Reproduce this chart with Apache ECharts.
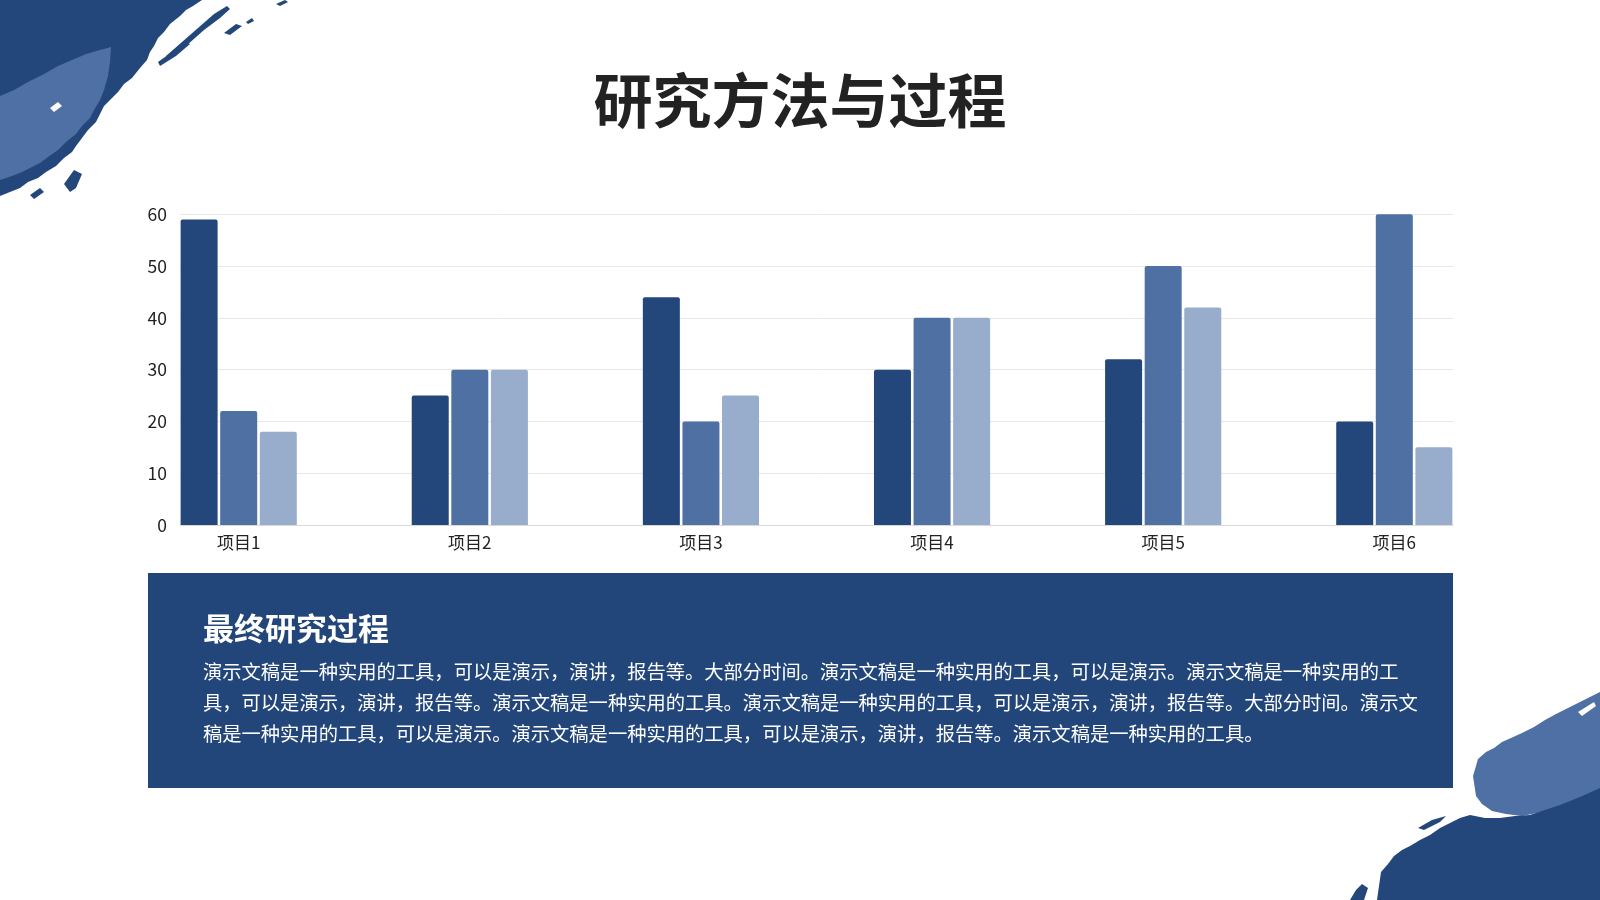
<!DOCTYPE html>
<html>
<head>
<meta charset="utf-8">
<script src="https://cdn.jsdelivr.net/npm/echarts@6/dist/echarts.min.js"></script>
<style>
html,body{margin:0;padding:0;background:#fff;}
#c{width:1600px;height:900px;}
</style>
</head>
<body>
<div id="c"></div>
<script>
var categories = ['项目1', '项目2', '项目3', '项目4', '项目5', '项目6'];
var series1 = [59, 25, 44, 30, 32, 20];
var series2 = [22, 30, 20, 40, 50, 60];
var series3 = [18, 30, 25, 40, 42, 15];
var yMin = 0, yMax = 60, yStep = 10;
var titleText = '研究方法与过程';
var boxTitle = '最终研究过程';
var boxLines = [
  '演示文稿是一种实用的工具，可以是演示，演讲，报告等。大部分时间。演示文稿是一种实用的工具，可以是演示。演示文稿是一种实用的工',
  '具，可以是演示，演讲，报告等。演示文稿是一种实用的工具。演示文稿是一种实用的工具，可以是演示，演讲，报告等。大部分时间。演示文',
  '稿是一种实用的工具，可以是演示。演示文稿是一种实用的工具，可以是演示，演讲，报告等。演示文稿是一种实用的工具。'
];

var DARK = '#23477B', MID = '#4F70A3', LIGHT = '#98ADCB', BRUSH = '#4E70A4';
var FONT = '"Noto Sans CJK SC", "Noto Sans", sans-serif';

var chart = echarts.init(document.getElementById('c'), null, {renderer: 'canvas', width: 1600, height: 900});

function barSeries(name, data, color) {
  return {
    type: 'bar', name: name, data: data, xAxisIndex: 0, yAxisIndex: 0,
    barWidth: 37, barGap: '7%', clip: false, z: 3,
    itemStyle: {color: color, borderRadius: [2, 2, 0, 0]},
    emphasis: {disabled: true}
  };
}
function poly(points, fill) {
  return {type: 'polygon', z: 0, silent: true, shape: {points: points}, style: {fill: fill}};
}

var option = {
  backgroundColor: '#ffffff',
  animation: false,
  textStyle: {fontFamily: FONT},
  grid: [
    {left: 238.7, right: 205.7, top: 214.3, bottom: 375, containLabel: false},
    {left: 180, right: 147, top: 214.3, bottom: 375, containLabel: false}
  ],
  xAxis: [
    {
      gridIndex: 0, type: 'category', data: categories, boundaryGap: false,
      axisLine: {show: false}, axisTick: {show: false},
      axisLabel: {color: '#222', fontSize: 17, margin: 9, fontFamily: FONT},
      splitLine: {show: false}
    },
    {
      gridIndex: 1, type: 'value', min: 0, max: 1,
      axisLine: {show: true, lineStyle: {color: '#d9d9d9', width: 1}},
      axisTick: {show: false}, axisLabel: {show: false}, splitLine: {show: false}
    }
  ],
  yAxis: [
    {
      gridIndex: 0, type: 'value', min: yMin, max: yMax, interval: yStep,
      show: false, splitLine: {show: false}
    },
    {
      gridIndex: 1, type: 'value', min: yMin, max: yMax, interval: yStep,
      axisLine: {show: false}, axisTick: {show: false},
      axisLabel: {color: '#222', fontSize: 17.5, margin: 13, fontFamily: FONT},
      splitLine: {show: true, lineStyle: {color: '#e8e8e8', width: 1}}
    }
  ],
  series: [
    barSeries('系列1', series1, DARK),
    barSeries('系列2', series2, MID),
    barSeries('系列3', series3, LIGHT)
  ],
  graphic: [
    // top-left brush stroke (decorative)
    poly([[0,0],[202,0],[193,6],[186,10],[180,16],[170,24],[164,32],[158,38],[154,46],[150,52],[147,60],
      [140,68],[132,78],[124,84],[118,92],[110,100],[104,106],[100,114],[96,122],[88,130],[82,138],
      [76,146],[72,152],[64,158],[56,166],[46,172],[38,178],[28,182],[20,188],[10,192],[0,196]], DARK),
    poly([[168,60],[186,46],[204,30],[220,18],[230,9],[227,6],[214,14],[198,28],[182,42],[166,56]], DARK),
    poly([[160,66],[176,56],[190,44],[186,42],[172,52],[158,62]], DARK),
    poly([[224,33],[236,24],[242,26],[230,35]], DARK),
    poly([[246,22],[252,18],[254,21],[248,24]], DARK),
    poly([[276,4],[285,0],[288,2],[280,6]], DARK),
    poly([[111,47],[110,62],[108,76],[104,90],[100,100],[94,110],[90,118],[82,126],[76,134],[66,142],
      [58,150],[48,157],[40,163],[30,168],[22,172],[12,176],[0,180],
      [0,96],[14,90],[28,82],[44,74],[58,66],[72,60],[86,54],[100,50]], BRUSH),
    poly([[50,108],[58,102],[62,106],[54,112]], '#ffffff'),
    poly([[70,192],[64,184],[74,170],[82,174],[76,188]], DARK),
    poly([[30,195],[40,188],[44,192],[34,199]], DARK),
    // bottom-right brush stroke (decorative)
    poly([[1473,776],[1476,766],[1478,759],[1486,752],[1494,748],[1502,742],[1511,738],[1522,733],
      [1534,727],[1545,720],[1556,714],[1568,708],[1580,702],[1590,697],[1600,692],
      [1600,796],[1580,802],[1562,808],[1542,812],[1522,816],[1506,814],[1492,811],[1482,804],[1476,796]], BRUSH),
    poly([[1578,712],[1594,702],[1596,706],[1582,716]], '#ffffff'),
    poly([[1377,900],[1379,886],[1381,872],[1388,864],[1394,856],[1402,850],[1410,846],[1420,840],
      [1430,835],[1440,828],[1450,823],[1460,818],[1470,815],[1485,818],[1500,818],[1515,816],
      [1530,815],[1545,810],[1560,805],[1580,797],[1600,788],[1600,900]], DARK),
    poly([[1350,900],[1356,890],[1362,884],[1368,888],[1364,900]], DARK),
    poly([[1418,828],[1432,820],[1446,816],[1440,822],[1424,830]], DARK),
    // title
    {type: 'text', z: 5, left: 'center', top: 71, style: {
      text: titleText, fill: '#222', font: 'bold 59px ' + FONT
    }},
    // text box
    {type: 'rect', z: 1, silent: true, shape: {x: 148, y: 573, width: 1305, height: 215},
      style: {fill: '#22467A'}},
    {type: 'text', z: 5, x: 203, y: 628, style: {
      text: boxTitle, fill: '#ffffff', font: 'bold 31px ' + FONT, verticalAlign: 'middle'
    }},
    {type: 'text', z: 5, x: 203, y: 656.5, style: {
      text: boxLines.join('\n'), fill: '#ffffff', font: '19.3px ' + FONT, verticalAlign: 'top',
      lineHeight: 30.7
    }}
  ]
};
chart.setOption(option);
</script>
</body>
</html>
